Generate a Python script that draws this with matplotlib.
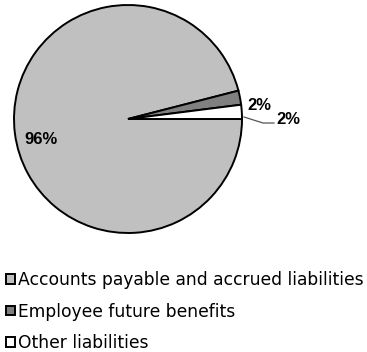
import matplotlib.pyplot as plt

plt.rcParams['font.family'] = ['Liberation Sans', 'DejaVu Sans']

# Liability breakdown
categories = ['Accounts payable and accrued liabilities', 'Employee future benefits', 'Other liabilities']
shares = [96, 2, 2]
colors = ['#C0C0C0', '#808080', '#FFFFFF']

W, H = 367, 352
fig = plt.figure(figsize=(W / 100, H / 100), dpi=100)
ax = fig.add_axes([0, 0, 1, 1])

cx, cy, r = 128, H - 119, 114

wedges, _ = ax.pie(shares, colors=colors, startangle=0, counterclock=False,
                   center=(cx, cy), radius=r, frame=True,
                   wedgeprops=dict(edgecolor='black', linewidth=1.4))

ax.set_xlim(0, W)
ax.set_ylim(0, H)
ax.set_aspect('equal')
ax.axis('off')

# percentage labels
lab = ['%d%%' % v for v in shares]
ax.text(41, H - 139, lab[0], fontsize=12, fontweight='bold', ha='center', va='center')
ax.text(259, H - 105, lab[1], fontsize=12, fontweight='bold', ha='center', va='center')
ax.text(288, H - 119, lab[2], fontsize=12, fontweight='bold', ha='center', va='center')
ax.plot([244, 263, 274], [H - 117, H - 123, H - 123], color='#555555', lw=0.9)

leg = fig.legend(wedges, categories, loc='upper left', bbox_to_anchor=(6 / W, 1 - 271 / H),
                 frameon=False, handlelength=0.5, handleheight=0.5,
                 handletextpad=0.2, labelspacing=0.8, borderpad=0, borderaxespad=0,
                 prop=dict(family='DejaVu Sans', size=12.3))

fig.savefig('out.png', dpi=100)
